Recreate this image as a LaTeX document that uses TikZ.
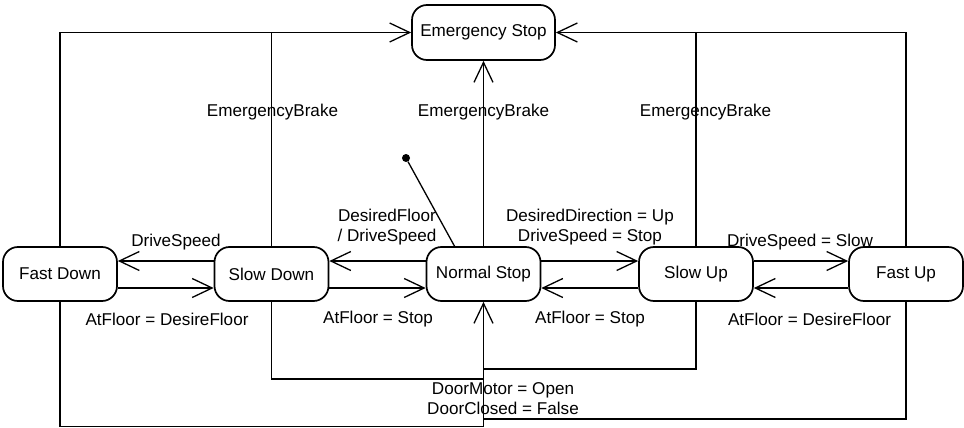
\documentclass[tikz,border=0pt]{standalone}
\usepackage{fontspec}
\setmainfont{Liberation Sans}
\usetikzlibrary{arrows.meta}
\begin{document}
\begin{tikzpicture}[x=1pt,y=-1pt,
  every node/.style={font=\fontsize{17.1}{20.5}\selectfont},
  state/.style={draw,line width=1.7pt,rounded corners=15pt,minimum width=114pt,minimum height=54pt,inner sep=0pt},
  wire/.style={line width=1.3pt},
  arr/.style={wire,-{Straight Barb[length=20pt,width=19pt,line width=1.3pt]}},
  heavy/.style={line width=2.2pt,-{Straight Barb[length=20pt,width=19pt,line width=1.3pt]}},
  lbl/.style={inner sep=0pt,align=center}]
\useasboundingbox (0,0) rectangle (964,428);

% states
\node[state,minimum width=143pt,minimum height=55pt] (es) at (483.5,32.5) {Emergency Stop};
\node[state] (fd) at (60,274) {Fast Down};
\node[state] (sd) at (271.5,274) {Slow Down};
\node[state] (ns) at (483.5,274) {Normal Stop};
\node[state] (su) at (696,274) {Slow Up};
\node[state] (fu) at (906,274) {Fast Up};

% initial pseudo-state
\node[circle,fill,inner sep=0pt,minimum size=8pt] (init) at (406,158) {};
\draw[wire] (init) -- ([xshift=-29pt]ns.north);

% speed transitions
\draw[arr]   ([yshift=13pt]sd.west) -- ([yshift=13pt]fd.east);
\draw[heavy] ([yshift=-14pt]fd.east) -- ([yshift=-14pt]sd.west);
\draw[arr]   ([yshift=13pt]ns.west) -- ([yshift=13pt]sd.east);
\draw[heavy] ([yshift=-14pt]sd.east) -- ([yshift=-14pt]ns.west);
\draw[arr]   ([yshift=13pt]ns.east) -- ([yshift=13pt]su.west);
\draw[heavy] ([yshift=-14pt]su.west) -- ([yshift=-14pt]ns.east);
\draw[arr]   ([yshift=13pt]su.east) -- ([yshift=13pt]fu.west);
\draw[heavy] ([yshift=-14pt]fu.west) -- ([yshift=-14pt]su.east);

% emergency brake rails
\draw[arr] (fd.north) |- (es.west);
\draw[wire] (sd.north) -- (sd.north |- es.west);
\draw[arr] (ns.north) -- (es.south);
\draw[wire] (su.north) -- (su.north |- es.east);
\draw[arr] (fu.north) |- (es.east);

% door rails back to Normal Stop
\coordinate (botL) at (483.5,426.5);
\coordinate (midL) at (483.5,379);
\coordinate (midR) at (483.5,369);
\coordinate (botR) at (483.5,419);
\draw[arr] (fd.south) |- (botL) -- (ns.south);
\draw[wire] (sd.south) |- (midL);
\draw[wire] (su.south) |- (midR);
\draw[wire] (fu.south) |- (botR);

% labels
\node[lbl] (eb1) at (272.5,112) {EmergencyBrake};
\node[lbl] (eb2) at (483.5,112) {EmergencyBrake};
\node[lbl] (eb3) at (705.5,112) {EmergencyBrake};
\node[lbl] (l1) at (176,242) {DriveSpeed};
\node[lbl] (l2) at (167,319) {AtFloor = DesireFloor};
\node[lbl] (l3) at (387,227) {DesiredFloor\\/ DriveSpeed};
\node[lbl] (l4) at (378,319) {AtFloor = Stop};
\node[lbl] (l5) at (590,227) {DesiredDirection = Up\\DriveSpeed = Stop};
\node[lbl] (l6) at (590,319) {AtFloor = Stop};
\node[lbl] (l7) at (800,242) {DriveSpeed = Slow};
\node[lbl] (l8) at (809.5,319) {AtFloor = DesireFloor};
\node[lbl] (l9) at (503,398.5) {DoorMotor = Open\\DoorClosed = False};
\end{tikzpicture}
\end{document}
